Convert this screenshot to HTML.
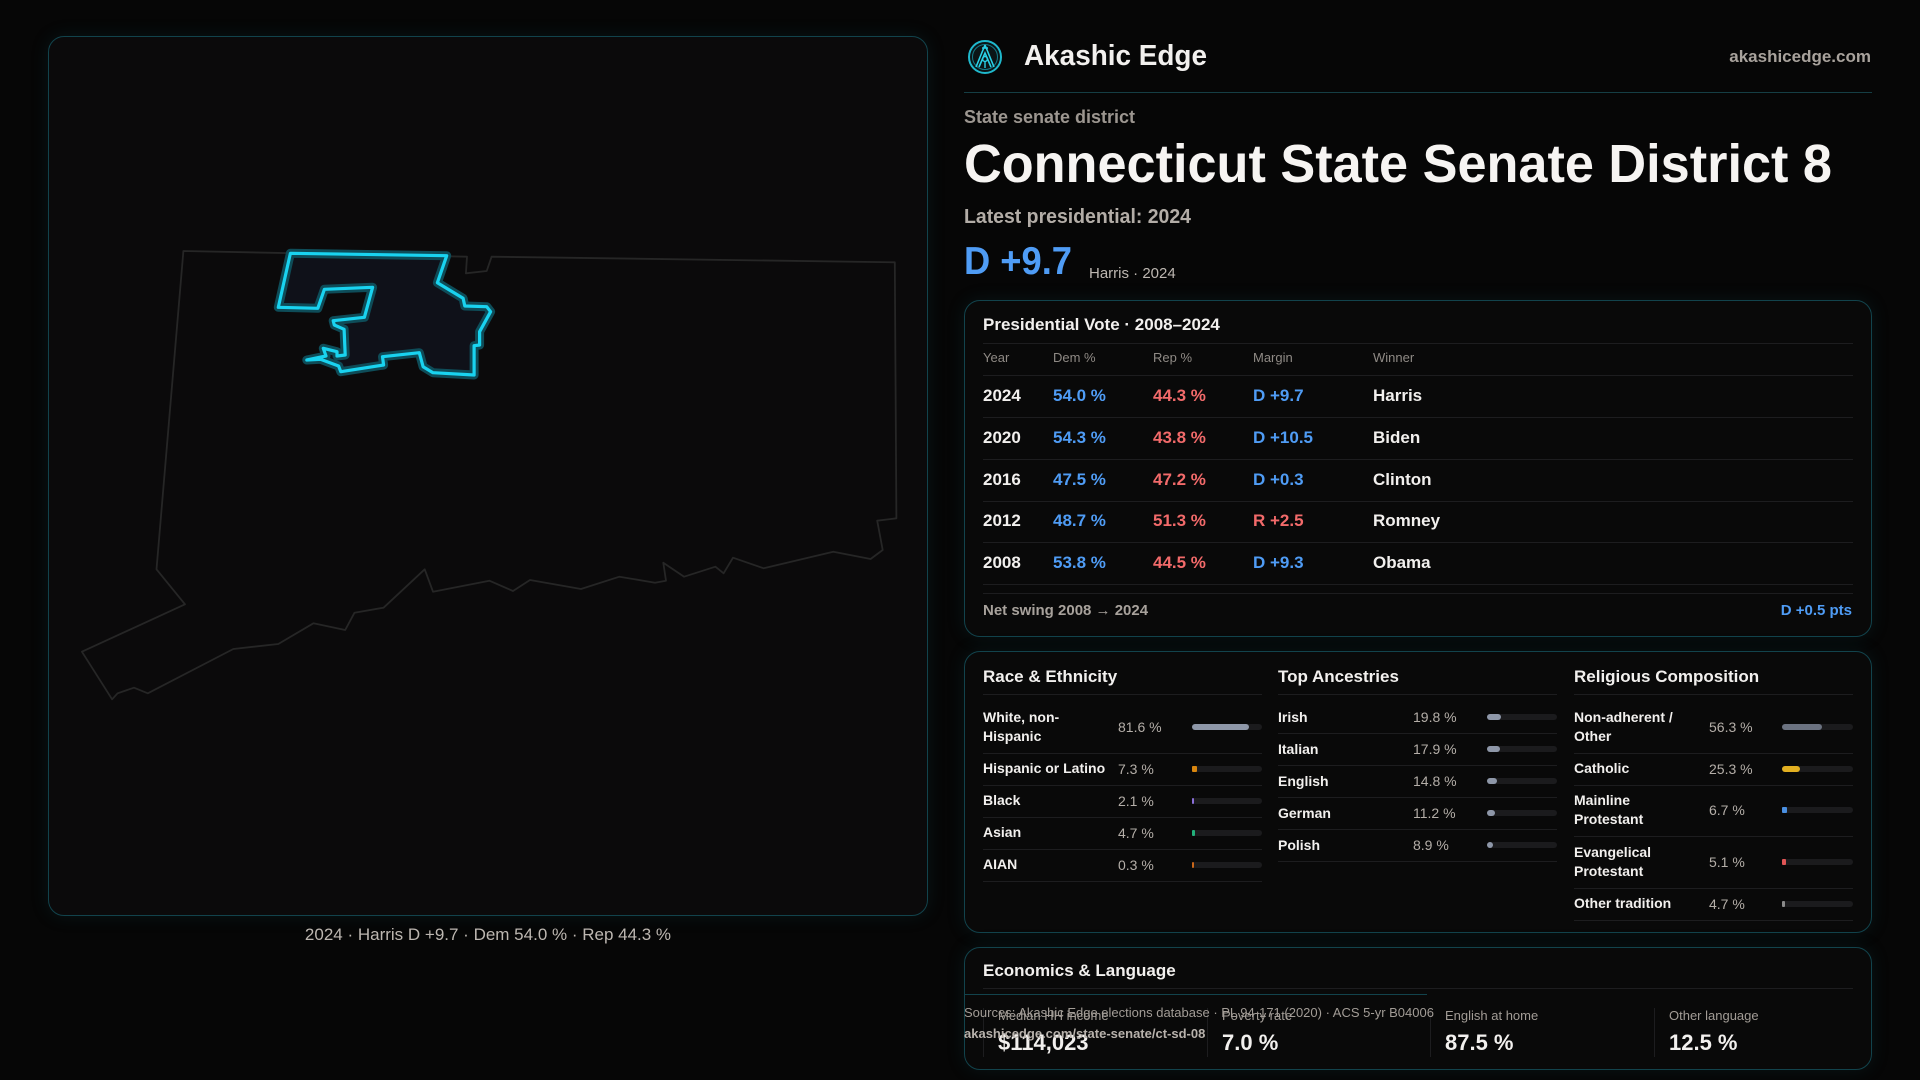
<!DOCTYPE html>
<html><head><meta charset="utf-8">
<style>
*{margin:0;padding:0;box-sizing:border-box}
body{width:1920px;height:1080px;background:#060606;font-family:"Liberation Sans",sans-serif;color:#f2f0ee;overflow:hidden;position:relative}
.a{position:absolute;white-space:nowrap}
.panel{position:absolute;border:1.5px solid #12434c;border-radius:16px;background:#090909;box-shadow:0 0 18px rgba(20,90,100,0.18)}
.fit{transform-origin:left center;display:inline-block}
.line{position:absolute;height:1px;background:#1d1d1f}
.gray{color:#a8a29c}
.blue{color:#4f9cf5}
.red{color:#f26a6a}
.tr{font-size:17px;font-weight:bold}
.hd{font-size:13px;color:#8f8a85}
.lbl{font-size:14px;font-weight:bold;color:#f2f0ee;line-height:19px}
.val{font-size:14px;color:#b4aea8}
.track{position:absolute;height:6px;border-radius:3px;background:#1b1b1d}
.fill{position:absolute;left:0;top:0;height:6px;border-radius:3px}
</style></head><body>

<!-- Map panel -->
<div class="panel" style="left:48px;top:36px;width:880px;height:880px;background:#0b0a0b"></div>
<svg class="a" style="left:0;top:0" width="940" height="930">
  <polygon fill="none" stroke="#262626" stroke-width="1.8" stroke-linejoin="round"
   points="183.4,251 467,256.7 465.9,273.3 486.7,271 491.6,256.7 894.8,262.3 896.4,518.3 877.2,520.7 882.7,550 870.6,559 833.3,551.7 763.7,568.3 733,557.7 723.6,573.3 715.4,566.7 684.1,576.7 663.3,562.7 666,580.7 655,582.7 619.4,576.7 581,589 530,580 513,591 489.4,580.7 433,591.7 424.7,569.3 383.6,607.7 354.5,612.7 345.2,630 313.4,623.3 278.3,644 233.3,649 147.8,693.3 134,687.7 117.6,693.3 112.1,699.3 81.9,651.7 185,604.3 156.5,569.3"/>
  <g>
  <polygon fill="#0f1119" stroke="#0e4c58" stroke-width="9" stroke-linejoin="round"
   points="290.4,253.3 446.7,255.7 437.4,282.7 463.1,298.3 464.8,306 486.7,306.7 490.6,311.7 479.6,331.7 479.6,345 474.1,345.7 474.1,375 433,372.7 423.1,366.7 419.3,352.7 382.5,356.7 383.6,365 340.8,371.7 338.6,366 320.5,359.3 306.8,360 326,356 323.3,348.3 337,351.7 337,356 345.2,355 344.1,329.3 334.3,325 333.2,320.7 364.4,317.3 372.6,287.3 324.4,289.3 317.8,308.3 278.3,307.3"/>
  <polygon fill="none" stroke="#19d3f0" stroke-width="3.2" stroke-linejoin="round"
   points="290.4,253.3 446.7,255.7 437.4,282.7 463.1,298.3 464.8,306 486.7,306.7 490.6,311.7 479.6,331.7 479.6,345 474.1,345.7 474.1,375 433,372.7 423.1,366.7 419.3,352.7 382.5,356.7 383.6,365 340.8,371.7 338.6,366 320.5,359.3 306.8,360 326,356 323.3,348.3 337,351.7 337,356 345.2,355 344.1,329.3 334.3,325 333.2,320.7 364.4,317.3 372.6,287.3 324.4,289.3 317.8,308.3 278.3,307.3"/>
  </g>
</svg>
<div class="a" style="left:48px;width:880px;top:925px;text-align:center;font-size:17px;color:#bdb7b1">2024 · Harris D +9.7 · Dem 54.0 % · Rep 44.3 %</div>

<!-- Header -->
<svg class="a" style="left:967px;top:39px" width="36" height="36" viewBox="0 0 36 36">
  <circle cx="18" cy="18" r="16" fill="#0b1416" stroke="#1fb8cc" stroke-width="2"/>
  <circle cx="18" cy="18" r="12.5" fill="none" stroke="#157a88" stroke-width="1"/>
  <path d="M18 6 L9 28 M18 6 L27 28 M12 28 L18 14 L24 28 M15 9 L21 9" stroke="#2ad0e6" stroke-width="1.6" fill="none"/>
  <circle cx="18" cy="20" r="2.4" fill="none" stroke="#2ad0e6" stroke-width="1.4"/>
  <path d="M18 22.5 L18 29" stroke="#2ad0e6" stroke-width="1.4"/>
</svg>
<div class="a" style="left:1024px;top:38px;font-size:29px;font-weight:bold;line-height:36px"><span class="fit" data-w="183">Akashic Edge</span></div>
<div class="a" style="right:49px;top:47px;font-size:17px;font-weight:bold;color:#a8a29c">akashicedge.com</div>
<div class="line" style="left:964px;top:92px;width:908px;background:#153e44"></div>

<div class="a gray" style="left:964px;top:107px;font-size:18px;font-weight:bold;color:#9c9690"><span class="fit" data-w="171">State senate district</span></div>
<div class="a" style="left:964px;top:132px;font-size:54px;font-weight:bold;line-height:64px;color:#f6f4f2"><span class="fit" data-w="868">Connecticut State Senate District 8</span></div>
<div class="a" style="left:964px;top:206px;font-size:20px;font-weight:bold;color:#b3ada7"><span class="fit" data-w="227">Latest presidential: 2024</span></div>
<div class="a blue" style="left:964px;top:239px;font-size:39px;line-height:46px;font-weight:bold"><span class="fit" data-w="108">D +9.7</span></div>
<div class="a" style="left:1089px;top:265px;font-size:15px;color:#bdb7b1">Harris · 2024</div>

<!-- Presidential vote panel -->
<div class="panel" style="left:964px;top:300px;width:908px;height:337px"></div>
<div class="a" style="left:983px;top:315px;font-size:17px;font-weight:bold">Presidential Vote · 2008–2024</div>
<div class="line" style="left:983px;top:343px;width:870px"></div>
<div id="vote"></div>
<div class="line" style="left:983px;top:593px;width:870px"></div>
<div class="a" style="left:983px;top:602px;font-size:15px;font-weight:bold;color:#a8a29c">Net swing 2008 → 2024</div>
<div class="a blue" style="right:68px;top:602px;font-size:15px;font-weight:bold">D +0.5 pts</div>

<!-- Demographics panel -->
<div class="panel" style="left:964px;top:651px;width:908px;height:282px"></div>
<div id="demo"></div>

<!-- Economics panel -->
<div class="panel" style="left:964px;top:947px;width:908px;height:123px"></div>
<div class="a" style="left:983px;top:961px;font-size:17px;font-weight:bold">Economics &amp; Language</div>
<div class="line" style="left:983px;top:988px;width:870px"></div>
<div class="line" style="left:964px;top:994px;width:463px;background:#12434c"></div>
<div id="econ"></div>
<div class="a" style="left:964px;top:1005px;font-size:13px;color:#a29c96">Sources: Akashic Edge elections database · PL 94-171 (2020) · ACS 5-yr B04006</div>
<div class="a" style="left:964px;top:1026px;font-size:13px;font-weight:bold;color:#b8b2ac">akashicedge.com/state-senate/ct-sd-08</div>

<script>
var voteYears=["2024","2020","2016","2012","2008"];
var voteDem=[54.0,54.3,47.5,48.7,53.8];
var voteRep=[44.3,43.8,47.2,51.3,44.5];
var voteMargins=["D +9.7","D +10.5","D +0.3","R +2.5","D +9.3"];
var voteWinners=["Harris","Biden","Clinton","Romney","Obama"];

var raceLabels=["White, non-\nHispanic","Hispanic or Latino","Black","Asian","AIAN"];
var raceValues=[81.6,7.3,2.1,4.7,0.3];
var ancLabels=["Irish","Italian","English","German","Polish"];
var ancValues=[19.8,17.9,14.8,11.2,8.9];
var relLabels=["Non-adherent /\nOther","Catholic","Mainline\nProtestant","Evangelical\nProtestant","Other tradition"];
var relValues=[56.3,25.3,6.7,5.1,4.7];

var econLabels=["Median HH income","Poverty rate","English at home","Other language"];
var econValues=["$114,023","7.0 %","87.5 %","12.5 %"];

function mk(parent,cls,style,text){var d=document.createElement('div');d.className=cls;d.setAttribute('style',style);if(text!==undefined)d.textContent=text;parent.appendChild(d);return d;}

// vote table
var V=document.getElementById('vote');
var hdrs=["Year","Dem %","Rep %","Margin","Winner"];
var cx=[983,1053,1153,1253,1373];
for(var i=0;i<hdrs.length;i++){
  var h=mk(V,'a hd','left:'+cx[i]+'px;top:350px;',hdrs[i]);
  
  
}
var l0=mk(V,'line','left:983px;top:375px;width:870px');


var rowH=41.8;
for(var r=0;r<voteYears.length;r++){
  var y=386+r*rowH;
  var isD=voteMargins[r].charAt(0)==='D';
  var row=mk(V,'a','left:0;top:0;');
  
  
  mk(row,'a tr','left:983px;top:'+y+'px',voteYears[r]);
  mk(row,'a tr blue','left:1053px;top:'+y+'px',voteDem[r].toFixed(1)+' %');
  mk(row,'a tr red','left:1153px;top:'+y+'px',voteRep[r].toFixed(1)+' %');
  mk(row,'a tr '+(isD?'blue':'red'),'left:1253px;top:'+y+'px',voteMargins[r]);
  mk(row,'a tr','left:1373px;top:'+y+'px',voteWinners[r]);
  var sl=mk(V,'line','left:983px;top:'+Math.round(417+r*rowH)+'px;width:870px');
  
  
}

// demographics
var D=document.getElementById('demo');
function col(title,x,labels,values,colors,valX,barX,name){
  var t=mk(D,'a','left:'+x+'px;top:667px;font-size:17px;font-weight:bold',title);
  
  
  var w=279;
  var ln=mk(D,'line','left:'+x+'px;top:694px;width:'+w+'px');
  
  
  var y=701;
  for(var i=0;i<labels.length;i++){
    var two=labels[i].indexOf('\n')>=0;
    var h=two?51.5:32;
    var c=y+h/2;
    var lb=mk(D,'a lbl','left:'+x+'px;top:'+(c-(two?19:9.5))+'px;white-space:pre',labels[i]);
    
    
    var vv=mk(D,'a val','left:'+valX+'px;top:'+(c-8)+'px',values[i].toFixed(1)+' %');
    
    
    var tk=mk(D,'track','left:'+barX+'px;top:'+(c-3)+'px;width:'+(x+w-barX)+'px');
    
    
    var fw=Math.max(2,(x+w-barX)*values[i]/100);
    var f=mk(tk,'fill','width:'+fw+'px;background:'+colors[i]+(fw<6?';border-radius:1px':''));
    
    
    y+=h;
    var s=mk(D,'line','left:'+x+'px;top:'+Math.round(y)+'px;width:'+w+'px');
    
    
  }
}
col('Race & Ethnicity',983,raceLabels,raceValues,['#8e97a8','#d8860f','#8b6fd8','#22b07a','#c8661a'],1118,1192,'race');
col('Top Ancestries',1278,ancLabels,ancValues,['#8e97a8','#8e97a8','#8e97a8','#8e97a8','#8e97a8'],1413,1487,'ancestry');
col('Religious Composition',1574,relLabels,relValues,['#6b7280','#e2b021','#4a8fe0','#e05555','#8a8a8a'],1709,1782,'religion');

// economics
var E=document.getElementById('econ');
var ex=[983,1207,1430,1654];
for(var i=0;i<econLabels.length;i++){
  var sp=mk(E,'a','left:'+ex[i]+'px;top:1008px;width:1px;height:49px;background:#1d1d1f');
  
  
  var l=mk(E,'a','left:'+(ex[i]+15)+'px;top:1008px;font-size:13px;color:#a29c96',econLabels[i]);
  
  
  var v=mk(E,'a','left:'+(ex[i]+15)+'px;top:1030px;font-size:22px;font-weight:bold',econValues[i]);
  
  
}

// fit widths
var fs=document.querySelectorAll('.fit');
for(var k=0;k<fs.length;k++){var el=fs[k];var tw=+el.getAttribute('data-w');var cw=el.getBoundingClientRect().width;if(cw>0)el.style.transform='scaleX('+(tw/cw)+')';}
</script>
</body></html>
